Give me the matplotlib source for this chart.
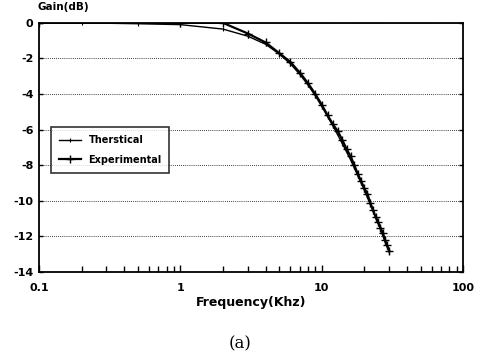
import matplotlib
matplotlib.use('Agg')
import matplotlib.pyplot as plt
from matplotlib.ticker import FixedLocator, LogLocator, NullFormatter

# measured response (kHz, dB)
freq_exp = [0.1, 1, 2, 3, 4, 5, 6, 7, 8, 9, 10, 11, 12, 13, 14, 15, 16, 17,
            18, 19, 20, 21, 22, 23, 24, 25, 26, 27, 28, 29, 30]
gain_exp = [0, 0, 0, -0.6, -1.1, -1.7, -2.2, -2.8, -3.4, -4.0, -4.6, -5.2,
            -5.7, -6.1, -6.6, -7.1, -7.5, -8.0, -8.5, -8.9, -9.3, -9.6, -10.1,
            -10.5, -10.9, -11.2, -11.5, -11.8, -12.2, -12.5, -12.8]

# theoretical response
freq_th = [0.1, 0.2, 0.5, 1, 2, 3, 4, 5, 6, 7, 8, 9, 10, 12, 14, 16, 18, 20,
           22, 24, 26, 28, 30]
gain_th = [0, 0, -0.05, -0.1, -0.35, -0.75, -1.2, -1.75, -2.3, -2.9, -3.5,
           -4.1, -4.7, -5.8, -6.8, -7.7, -8.6, -9.4, -10.2, -10.9, -11.6,
           -12.3, -12.9]

yticks = [0, -2, -4, -6, -8, -10, -12, -14]
xticks = [0.1, 1, 10, 100]
xtick_labels = ['0.1', '1', '10', '100']

fig = plt.figure(figsize=(4.81, 3.57), dpi=100)
ax = fig.add_axes([0.081, 0.238, 0.882, 0.698])

ax.plot(freq_th, gain_th, color='black', lw=1.0, marker='|', ms=3, mew=0.8,
        label='Therstical')
ax.plot(freq_exp, gain_exp, color='black', lw=1.6, marker='+', ms=6, mew=1.0,
        label='Experimental')

ax.set_xscale('log')
ax.set_xlim(0.1, 100)
ax.set_ylim(-14, 0)
ax.set_yticks(yticks)
ax.set_yticklabels([str(v) for v in yticks], fontweight='bold', fontsize=8)
ax.xaxis.set_major_locator(FixedLocator(xticks))
ax.set_xticklabels(xtick_labels, fontweight='bold', fontsize=8)
ax.xaxis.set_minor_locator(LogLocator(base=10, subs=range(2, 10)))
ax.xaxis.set_minor_formatter(NullFormatter())
ax.tick_params(axis='x', which='both', direction='in', length=5, width=1, pad=8)
ax.tick_params(axis='x', which='minor', length=4)
ax.tick_params(axis='y', direction='in', length=3, width=1, pad=4,
               right=True)

ax.grid(axis='y', linestyle=(0, (1, 1.5)), color='black', lw=0.6)
for s in ax.spines.values():
    s.set_linewidth(1.3)

ax.set_xlabel('Frequency(Khz)', fontweight='bold', fontsize=9, labelpad=2)
fig.text(0.078, 0.965, 'Gain(dB)', fontweight='bold', fontsize=7.5,
         ha='left', va='bottom')

leg = ax.legend(loc='upper left', bbox_to_anchor=(0.018, 0.6),
                frameon=True, fancybox=False, edgecolor='black',
                prop={'weight': 'bold', 'size': 7}, handlelength=2.2,
                borderpad=0.8, labelspacing=1.0)
leg.get_frame().set_linewidth(1.2)

fig.text(0.5, 0.025, '(a)', fontsize=12, family='DejaVu Serif', ha='center')

fig.savefig('out.png', dpi=100)
